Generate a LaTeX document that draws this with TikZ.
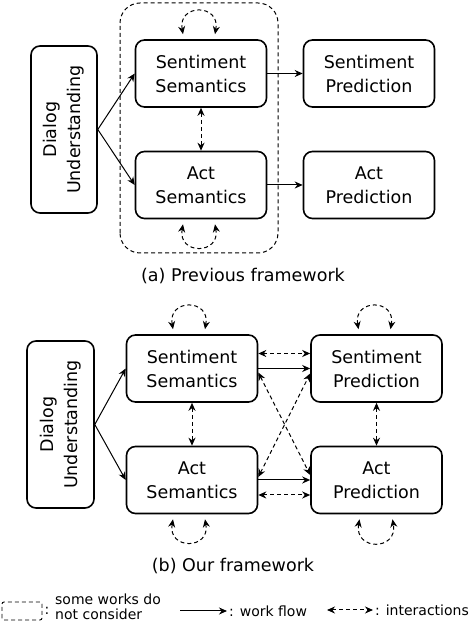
\documentclass[tikz,border=0pt]{standalone}
\usepackage{fontspec}
\setmainfont{DejaVu Sans}
\usetikzlibrary{arrows.meta}
\tikzset{box/.style = {draw, line width=1.6pt, rounded corners=9pt,
                       minimum width=131pt, minimum height=67pt,
                       align=center, font=\fontsize{17.5}{24}\selectfont},
         flow/.style = {-{Stealth[length=8pt,width=7pt]}, line width=1pt},
         inter/.style = {{Stealth[length=8pt,width=7pt]}-{Stealth[length=8pt,width=7pt]},
                         dash pattern=on 4pt off 3pt, line width=1pt},
         figcaption/.style = {font=\fontsize{17.5}{24}\selectfont},
         legend/.style = {font=\fontsize{14}{15}\selectfont, inner sep=0pt}}

\begin{document}
\begin{tikzpicture}[x=1pt, y=1pt]
  \useasboundingbox (0,0) rectangle (474,624);
  % (a) previous framework
  \draw [dash pattern=on 4pt off 3pt, line width=1pt, rounded corners=20pt] (120,371) rectangle (278,621);
  \node [box, rotate=90, minimum width=167pt, minimum height=66pt] (dua) at (64,494.5) {Dialog\\Understanding};
  \node [box] (ssa) at (201,550.5) {Sentiment\\Semantics};
  \node [box] (spa) at (369,550.5) {Sentiment\\Prediction};
  \node [box] (asa) at (201,439) {Act\\Semantics};
  \node [box] (apa) at (369,439) {Act\\Prediction};
  \node [figcaption] (capa) at (243,348) {(a) Previous framework};
    \draw [flow] (dua.south) -- (ssa.west);
    \draw [flow] (dua.south) -- (asa.west);
    \draw [flow] (ssa) -- (spa);
    \draw [flow] (asa) -- (apa);
    \draw [inter] (ssa) -- (asa);
    \draw [inter] ([xshift=-18pt,yshift=5pt]ssa.north) to[out=100, in=80, looseness=2.5] ([xshift=14pt,yshift=5pt]ssa.north);
    \draw [inter] ([xshift=-18pt,yshift=-5pt]asa.south) to[out=-100, in=-80, looseness=2.5] ([xshift=14pt,yshift=-5pt]asa.south);
  % (b) our framework
  \node [box, rotate=90, minimum width=167pt, minimum height=67pt] (dub) at (60.5,199.5) {Dialog\\Understanding};
  \node [box] (ssb) at (192,255.5) {Sentiment\\Semantics};
  \node [box] (spb) at (376.5,255.5) {Sentiment\\Prediction};
  \node [box] (asb) at (192,144) {Act\\Semantics};
  \node [box] (apb) at (376.5,144) {Act\\Prediction};
  \node [figcaption] (capb) at (233,58) {(b) Our framework};
    \draw [flow] (dub.south) -- (ssb.west);
    \draw [flow] (dub.south) -- (asb.west);
    \draw [flow] (ssb) -- (spb);
    \draw [flow] (asb) -- (apb);
    \draw [inter] ([yshift=15pt]ssb.east) -- ([yshift=15pt]spb.west);
    \draw [inter] ([yshift=-15pt]asb.east) -- ([yshift=-15pt]apb.west);
    \draw [inter] ([yshift=-4pt]ssb.east) -- ([yshift=5pt]apb.west);
    \draw [inter] ([yshift=3pt]asb.east) -- ([yshift=-5pt]spb.west);
    \draw [inter] (ssb) -- (asb);
    \draw [inter] (spb) -- (apb);
    \draw [inter] ([xshift=-19pt,yshift=5pt]ssb.north) to[out=100, in=80, looseness=2.5] ([xshift=13pt,yshift=5pt]ssb.north);
    \draw [inter] ([xshift=-18pt,yshift=5pt]spb.north) to[out=100, in=80, looseness=2.5] ([xshift=14pt,yshift=5pt]spb.north);
    \draw [inter] ([xshift=-19pt,yshift=-5pt]asb.south) to[out=-100, in=-80, looseness=2.5] ([xshift=13pt,yshift=-5pt]asb.south);
    \draw [inter] ([xshift=-17pt,yshift=-5pt]apb.south) to[out=-100, in=-80, looseness=2.5] ([xshift=16pt,yshift=-5pt]apb.south);
  % legend
  \draw [dash pattern=on 4pt off 3pt, line width=0.9pt, rounded corners=2pt] (2,4) rectangle (42,22);
  \node [legend] (lgcolon) at (47,13) {:};
  \node [legend, anchor=west, align=left] (lgbox) at (55,17) {some works do\\not consider};
  \coordinate (flowa) at (180,13);
  \coordinate (flowb) at (227,13);
    \draw [flow] (flowa) -- (flowb);
  \node [legend, anchor=west] (lgflow) at ([xshift=2pt]flowb) {: work flow};
  \coordinate (intera) at (327,14);
  \coordinate (interb) at (373,14);
    \draw [inter] (intera) -- (interb);
  \node [legend, anchor=west] (lginter) at ([xshift=2pt]interb) {: interactions};
\end{tikzpicture}
\end{document}
